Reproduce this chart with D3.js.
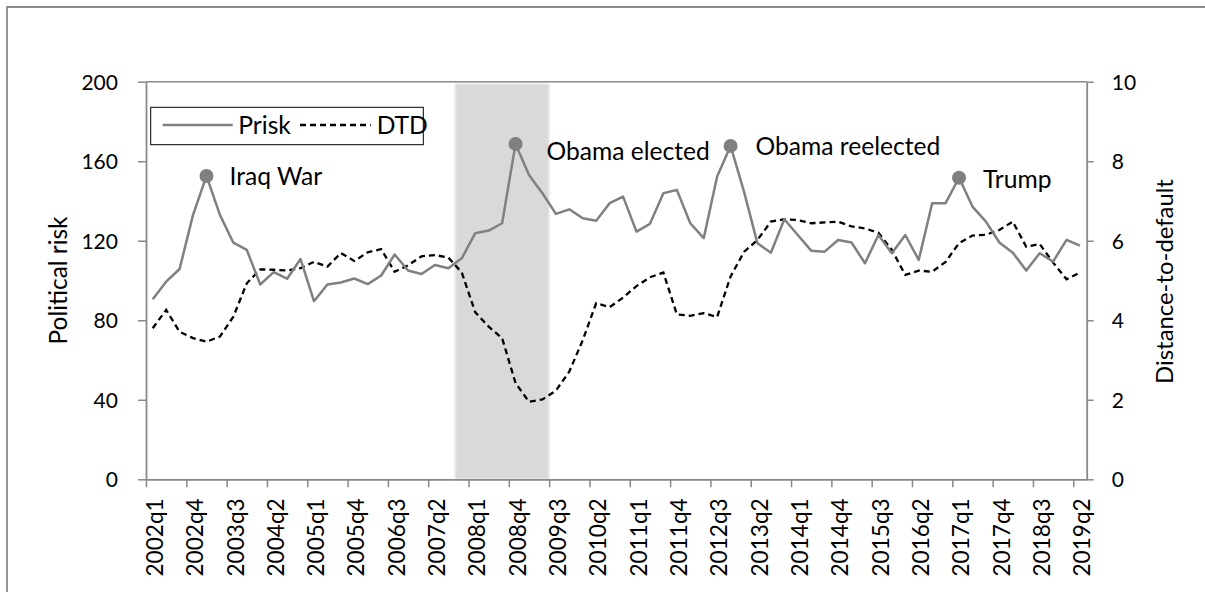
<!DOCTYPE html>
<html><head><meta charset="utf-8">
<script src="https://cdn.jsdelivr.net/npm/d3@7"></script>
<style>
html,body{margin:0;padding:0;background:#fff;}
svg{display:block;}
text{font-family:Lato,"Open Sans",sans-serif;fill:#000;}
</style></head><body>
<svg id="chart" width="1205" height="592"></svg>
<script>
const quarters = ["2002q1","2002q2","2002q3","2002q4","2003q1","2003q2","2003q3","2003q4",
"2004q1","2004q2","2004q3","2004q4","2005q1","2005q2","2005q3","2005q4",
"2006q1","2006q2","2006q3","2006q4","2007q1","2007q2","2007q3","2007q4",
"2008q1","2008q2","2008q3","2008q4","2009q1","2009q2","2009q3","2009q4",
"2010q1","2010q2","2010q3","2010q4","2011q1","2011q2","2011q3","2011q4",
"2012q1","2012q2","2012q3","2012q4","2013q1","2013q2","2013q3","2013q4",
"2014q1","2014q2","2014q3","2014q4","2015q1","2015q2","2015q3","2015q4",
"2016q1","2016q2","2016q3","2016q4","2017q1","2017q2","2017q3","2017q4",
"2018q1","2018q2","2018q3","2018q4","2019q1","2019q2"];

const prisk = [90.6,99.4,105.8,133.0,152.6,133.0,119.0,115.4,
98.0,104.2,100.9,110.8,89.6,98.0,99.0,101.0,
98.2,102.5,113.1,105.0,103.3,107.8,106.2,111.2,
123.8,125.1,128.8,168.7,153.1,143.9,133.5,135.8,
131.3,130.1,138.9,142.2,124.6,128.5,143.9,145.6,
128.8,121.3,152.3,167.7,144.7,118.7,114.0,130.8,
122.9,115.0,114.5,120.4,119.1,108.7,122.9,113.7,
122.9,110.3,138.9,138.9,151.7,137.2,129.6,119.1,
114.0,105.0,113.7,109.5,120.4,117.5];

const dtd = [3.80,4.26,3.71,3.55,3.46,3.59,4.09,4.93,
5.28,5.27,5.25,5.31,5.47,5.35,5.69,5.49,
5.71,5.79,5.22,5.38,5.61,5.64,5.58,5.20,
4.20,3.84,3.55,2.42,1.95,2.01,2.23,2.71,
3.50,4.43,4.33,4.57,4.86,5.08,5.20,4.15,
4.11,4.18,4.08,5.10,5.72,6.02,6.48,6.54,
6.52,6.44,6.46,6.48,6.36,6.31,6.20,5.77,
5.14,5.25,5.22,5.47,5.94,6.13,6.15,6.27,
6.48,5.85,5.92,5.45,5.03,5.20];

const tickLabels = ["2002q1","2002q4","2003q3","2004q2","2005q1","2005q4","2006q3","2007q2",
"2008q1","2008q4","2009q3","2010q2","2011q1","2011q4","2012q3","2013q2",
"2014q1","2014q4","2015q3","2016q2","2017q1","2017q4","2018q3","2019q2"];
const leftTicks = [0,40,80,120,160,200];
const rightTicks = [0,2,4,6,8,10];

const recessionQuarters = ["2007q4","2008q1","2008q2","2008q3","2008q4","2009q1","2009q2"];
const recessionLevel = 199;

const eventNames = ["Iraq War","Obama elected","Obama reelected","Trump"];
const eventQuarters = ["2003q1","2008q4","2012q4","2017q1"];

const seriesNames = ["Prisk","DTD"];
const leftTitle = "Political risk";
const rightTitle = "Distance-to-default";

// ---------- layout ----------
const L = 146, R = 1086.7, T = 81.7, B = 479.3;
const axisColor = "#898989";
const labelNudge = [[23,9],[31,16],[25,9],[24,10.6]];

const svg = d3.select("#chart");

// outer border
svg.append("path").attr("d","M7,600 L7,7 L1215,7")
  .attr("fill","none").attr("stroke","#8a8a8a").attr("stroke-width",1.8);

const x = d3.scaleBand().domain(quarters).range([L,R]).paddingInner(0).paddingOuter(0);
const bw = x.bandwidth();
const cx = q => x(q) + bw/2;
const yL = d3.scaleLinear().domain([0,200]).range([B,T]);
const yR = d3.scaleLinear().domain([0,10]).range([B,T]);

// recession shading (one block over the recession quarters)
const defs = svg.append("defs");
defs.append("filter").attr("id","soft").attr("x","-10%").attr("y","-5%").attr("width","120%").attr("height","110%")
  .append("feGaussianBlur").attr("stdDeviation",1.1);
const r0 = recessionQuarters[0], r1 = recessionQuarters[recessionQuarters.length-1];
svg.append("rect")
  .attr("x", x(r0)).attr("width", x(r1)+bw-x(r0))
  .attr("y", yL(recessionLevel)).attr("height", yL(0)-yL(recessionLevel))
  .attr("fill","#d9d9d9").attr("filter","url(#soft)");

// top border of plot
svg.append("line").attr("x1",L).attr("x2",R).attr("y1",yL(200)).attr("y2",yL(200))
  .attr("stroke",axisColor).attr("stroke-width",1.5);

// left axis
const gl = svg.append("g").attr("transform",`translate(${L},0)`)
  .call(d3.axisLeft(yL).tickValues(leftTicks).tickSize(8).tickSizeOuter(0).tickPadding(20));
// right axis
const gr = svg.append("g").attr("transform",`translate(${R},0)`)
  .call(d3.axisRight(yR).tickValues(rightTicks).tickSize(7).tickSizeOuter(0).tickPadding(18));
// bottom axis (ticks on category boundaries)
const xIdx = d3.scaleLinear().domain([0,quarters.length]).range([L,R]);
const gb = svg.append("g").attr("transform",`translate(0,${B})`)
  .call(d3.axisBottom(xIdx).tickValues(tickLabels.map(q=>quarters.indexOf(q))).tickSize(8).tickSizeOuter(0).tickFormat(""));

[gl,gr,gb].forEach(g=>{
  g.select(".domain").attr("stroke",axisColor).attr("stroke-width",1.8);
  g.selectAll(".tick line").attr("stroke",axisColor).attr("stroke-width",1.5);
  g.selectAll("text").attr("fill","#000").style("font-family","Lato").attr("font-size",null);
});
gl.selectAll(".tick text").attr("dy","0.36em");
gr.selectAll(".tick text").attr("dy","0.36em");

// x labels
const xl = svg.append("g").selectAll("text").data(tickLabels).join("text")
  .attr("transform", d=>`translate(${cx(d)+2},${B+19})rotate(-90)`)
  .attr("text-anchor","end").attr("dy","0.36em").text(d=>d);

// lines
const prLine = d3.line().x((d,i)=>cx(quarters[i])).y(d=>yL(d));
const dtdLine = d3.line().x((d,i)=>cx(quarters[i])).y(d=>yR(d));
svg.append("path").datum(dtd).attr("d",dtdLine).attr("fill","none")
  .attr("stroke","#000").attr("stroke-width",2.3).attr("stroke-dasharray","6,4");
svg.append("path").datum(prisk).attr("d",prLine).attr("fill","none")
  .attr("stroke","#808080").attr("stroke-width",2.5).attr("stroke-linejoin","round");

// event markers
const ev = eventQuarters.map((q,i)=>({q, name:eventNames[i], v:prisk[quarters.indexOf(q)], n:labelNudge[i]}));
svg.append("g").selectAll("circle").data(ev).join("circle")
  .attr("cx",d=>cx(d.q)).attr("cy",d=>yL(d.v)).attr("r",7).attr("fill","#808080");
const evText = svg.append("g").selectAll("text").data(ev).join("text")
  .attr("x",d=>cx(d.q)+d.n[0]).attr("y",d=>yL(d.v)+d.n[1]).text(d=>d.name);

// legend
const lg = svg.append("g");
lg.append("rect").attr("x",150.7).attr("y",107.3).attr("width",272.6).attr("height",37.4)
  .attr("fill","#fff").attr("stroke","#000").attr("stroke-width",1);
lg.append("line").attr("x1",162.7).attr("x2",232.7).attr("y1",125).attr("y2",125)
  .attr("stroke","#808080").attr("stroke-width",2.5);
lg.append("line").attr("x1",300).attr("x2",370.7).attr("y1",125).attr("y2",125)
  .attr("stroke","#000").attr("stroke-width",2.3).attr("stroke-dasharray","6,4");
const lgText = lg.selectAll("text").data(seriesNames).join("text")
  .attr("x",(d,i)=>[238.3,376.7][i]).attr("y",134).text(d=>d);

// axis titles
const t1 = svg.append("text").attr("transform",`translate(66.7,${(T+B)/2})rotate(-90)`)
  .attr("text-anchor","middle").text(leftTitle);
const t2 = svg.append("text").attr("transform",`translate(1173.3,${(T+B)/2+1})rotate(-90)`)
  .attr("text-anchor","middle").text(rightTitle);

// font fitting to reference text widths
function fit(sel, targets){
  const base = 20; sel.attr("font-size", base);
  const r = [];
  sel.each(function(d,i){ if(targets[i]) r.push(targets[i]/this.getComputedTextLength()); });
  sel.attr("font-size", base*d3.mean(r));
}
fit(gl.selectAll(".tick text").filter(d=>d===200), [36.6]);
const tickSize = +gl.selectAll(".tick text").filter(d=>d===200).attr("font-size");
gl.selectAll(".tick text").attr("font-size",tickSize);
gr.selectAll(".tick text").attr("font-size",tickSize);
fit(xl, [78.3]);
xl.attr("font-size", +xl.filter((d,i)=>i===0).attr("font-size"));
fit(evText, [92.7,163,184.3,69]);
lgText.attr("font-size", evText.attr("font-size"));
fit(t1, [128]);
fit(t2, [205]);
</script>
</body></html>
